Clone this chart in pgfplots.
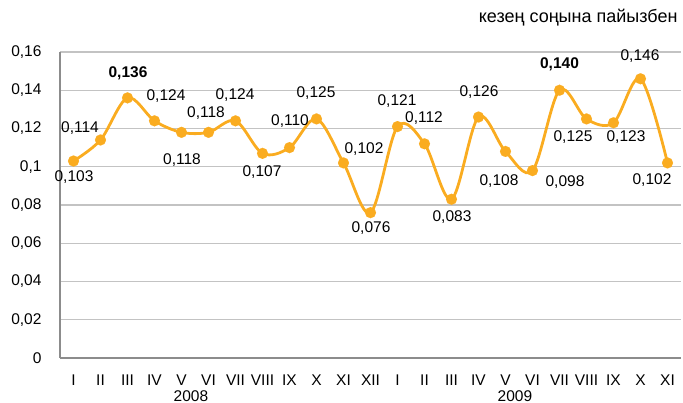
\documentclass[border=0pt]{standalone}
\usepackage{pgfplots}
\pgfplotsset{compat=1.18}
\usepackage{fontspec}
\setmainfont{Liberation Sans}
\definecolor{lineor}{RGB}{250,172,32}
\definecolor{gridg}{RGB}{195,195,195}
\definecolor{axg}{RGB}{140,140,140}
\begin{document}
\begin{tikzpicture}[x=1pt,y=1pt]
\useasboundingbox (-60,-45) rectangle (623,358);
\begin{axis}[
  at={(0,0)}, anchor=south west,
  scale only axis, width=621pt, height=306pt,
  xmin=-0.5, xmax=22.5, ymin=0, ymax=0.16,
  clip=false,
  axis x line*=bottom, axis y line*=left,
  axis line style={axg, line width=1.2pt},
  ytick={0,0.02,0.04,0.06,0.08,0.1,0.12,0.14,0.16},
  yticklabel style={/pgf/number format/use comma, /pgf/number format/fixed, /pgf/number format/precision=2, /pgf/number format/assume math mode=true, font=\fontsize{15.5}{17}\selectfont, xshift=-15pt},
  scaled y ticks=false,
  ymajorgrids, grid style={gridg, line width=1.2pt},
  major y tick style={draw=none},
  xtick={0,...,22},
  xticklabels={I,II,III,IV,V,VI,VII,VIII,IX,X,XI,XII,I,II,III,IV,V,VI,VII,VIII,IX,X,XI},
  xticklabel style={font=\fontsize{15.5}{17}\selectfont, anchor=base, yshift=-28pt},
  major x tick style={draw=none},
  extra x ticks={-0.5,0.5,...,22.5},
  extra x tick labels={},
  extra x tick style={tick align=outside, major tick length=5pt, tick style={axg, line width=1.2pt, draw=axg}, grid=none},
]
\addplot[lineor, line width=2.8pt, smooth, tension=0.55, no marks] coordinates {
(0,0.103) (1,0.114) (2,0.136) (3,0.124) (4,0.118) (5,0.118) (6,0.124) (7,0.107) (8,0.110) (9,0.125) (10,0.102) (11,0.076)
(12,0.121) (13,0.112) (14,0.083) (15,0.126) (16,0.108) (17,0.098) (18,0.140) (19,0.125) (20,0.123) (21,0.146) (22,0.102)};
\addplot[lineor, only marks, mark=*, mark size=5.5pt, mark options={fill=lineor, draw=lineor, line width=0.1pt, solid}] coordinates {
(0,0.103) (1,0.114) (2,0.136) (3,0.124) (4,0.118) (5,0.118) (6,0.124) (7,0.107) (8,0.110) (9,0.125) (10,0.102) (11,0.076)
(12,0.121) (13,0.112) (14,0.083) (15,0.126) (16,0.108) (17,0.098) (18,0.140) (19,0.125) (20,0.123) (21,0.146) (22,0.102)};
\begin{scope}[font=\fontsize{15.5}{17}\selectfont]
\node at (axis cs:0.018,0.0946) {0,103};
\node at (axis cs:0.241,0.1203) {0,114};
\node at (axis cs:2.019,0.1490) {\bfseries 0,136};
\node at (axis cs:3.426,0.1370) {0,124};
\node at (axis cs:4.019,0.1035) {0,118};
\node at (axis cs:4.907,0.1281) {0,118};
\node at (axis cs:5.981,0.1375) {0,124};
\node at (axis cs:6.981,0.0973) {0,107};
\node at (axis cs:8.019,0.1239) {0,110};
\node at (axis cs:8.981,0.1386) {0,125};
\node at (axis cs:10.759,0.1093) {0,102};
\node at (axis cs:11.019,0.0680) {0,076};
\node at (axis cs:11.981,0.1344) {0,121};
\node at (axis cs:12.981,0.1255) {0,112};
\node at (axis cs:14.019,0.0737) {0,083};
\node at (axis cs:15.019,0.1391) {0,126};
\node at (axis cs:15.759,0.0925) {0,108};
\node at (axis cs:18.204,0.0920) {0,098};
\node at (axis cs:18.0,0.1537) {\bfseries 0,140};
\node at (axis cs:18.5,0.1156) {0,125};
\node at (axis cs:20.463,0.1156) {0,123};
\node at (axis cs:20.981,0.1580) {0,146};
\node at (axis cs:21.426,0.0931) {0,102};
\node[anchor=base] at (axis cs:4.35,-0.0225) {2008};
\node[anchor=base] at (axis cs:16.35,-0.0225) {2009};
\end{scope}
\end{axis}
\node[anchor=east, font=\fontsize{18}{20}\selectfont] at (621,340) {кезең соңына пайызбен};
\end{tikzpicture}
\end{document}
